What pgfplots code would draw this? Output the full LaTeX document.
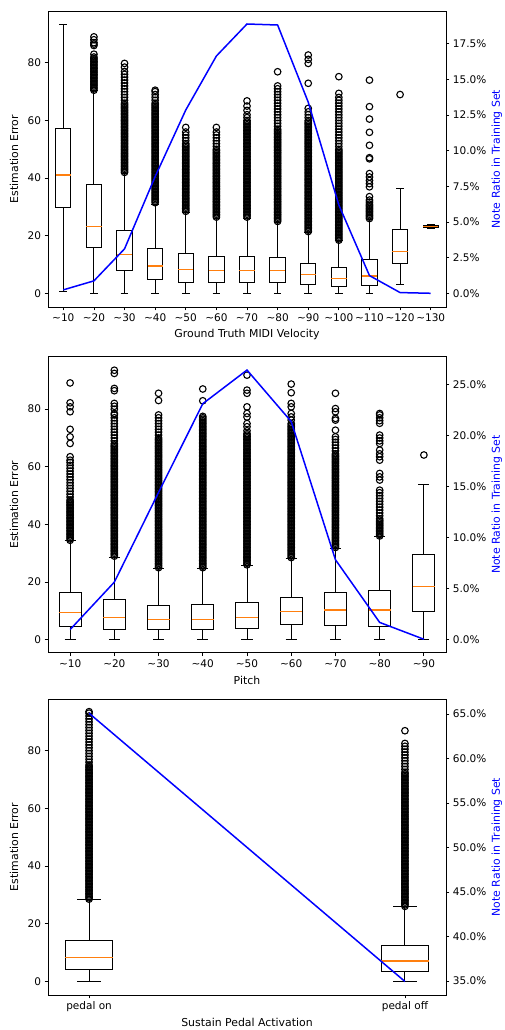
\documentclass[border=0pt]{standalone}
\usepackage{fontspec}
\setmainfont{DejaVu Sans}
\usepackage{pgfplots}
\usepgfplotslibrary{statistics}
\pgfplotsset{compat=1.18}
\definecolor{mplorange}{HTML}{FF7F0E}
\definecolor{mplblue}{RGB}{0,0,255}
\pgfplotsset{
  base/.style={
    scale only axis, width=398pt, height=296pt,
    axis line style={line width=0.8pt},
    every tick/.style={black, line width=0.8pt},
    tick align=outside, major tick length=3.4pt,
    /pgf/number format/assume math mode=true,
    tick label style={font=\fontsize{10.5}{12}\selectfont},
    label style={font=\fontsize{10.9}{13}\selectfont},
  },
  leftax/.style={base,
    xtick pos=left, ytick pos=left,
    ytick={0,20,40,60,80},
    ylabel={Estimation Error},
    ylabel style={at={(axis description cs:-0.0854,0.5)}, anchor=center},
    xlabel style={at={(axis description cs:0.5,-0.094)}, anchor=center},
    boxplot/draw direction=y,
    boxplot/every median/.style={draw=mplorange, line width=1.3pt},
    boxplot/box extend=0.5, boxplot/whisker extend=0.25,
  },
  rightax/.style={base,
    axis y line*=right, axis x line=none,
    ylabel={Note Ratio in Training Set},
    ylabel style={at={(axis description cs:1.128,0.5)}, anchor=center, text=mplblue},
    yticklabel={\pgfmathprintnumber[fixed,fixed zerofill,precision=1]{\tick}\%},
  },
  bx/.style={black, line width=1pt, mark=o, mark size=3.3pt,
    mark options={solid, line width=1.1pt, fill=none}},
  ln/.style={mplblue, line width=1.5pt, mark=none},
}
\begin{document}
\begin{tikzpicture}
\path[use as bounding box] (0,0) rectangle (504pt,-1030pt);
% ================= Panel 1 =================
\begin{axis}[leftax, at={(48pt,-307pt)}, anchor=south west,
  xmin=0.5, xmax=13.5, ymin=-4.67, ymax=97.97,
  xtick={1,2,3,4,5,6,7,8,9,10,11,12,13},
  xticklabels={\textasciitilde10,\textasciitilde20,\textasciitilde30,\textasciitilde40,\textasciitilde50,\textasciitilde60,\textasciitilde70,\textasciitilde80,\textasciitilde90,\textasciitilde100,\textasciitilde110,\textasciitilde120,\textasciitilde130},
  xlabel={Ground Truth MIDI Velocity}]
\addplot[bx, boxplot prepared={draw position=1, lower whisker=0.6, lower quartile=30.0, median=41.1, upper quartile=57.3, upper whisker=93.3}] coordinates {};
\addplot[bx, boxplot prepared={draw position=2, lower whisker=0, lower quartile=16.0, median=23.3, upper quartile=37.9, upper whisker=70.3}] table[row sep=\\,y index=0]{y\\70.5\\71\\71.5\\72\\72.5\\73\\73.5\\74\\74.5\\75\\75.5\\76\\76.5\\77\\77.5\\78\\78.5\\79\\79.5\\80\\80.5\\81\\81.5\\82\\83\\86\\86.5\\87\\88\\89\\};
\addplot[bx, boxplot prepared={draw position=3, lower whisker=0, lower quartile=8.1, median=13.6, upper quartile=21.8, upper whisker=41.7}] table[row sep=\\,y index=0]{y\\42\\42.5\\43\\43.5\\44\\44.5\\45\\45.5\\46\\46.5\\47\\47.5\\48\\48.5\\49\\49.5\\50\\50.5\\51\\51.5\\52\\52.5\\53\\53.5\\54\\54.5\\55\\55.5\\56\\56.5\\57\\57.5\\58\\58.5\\59\\59.5\\60\\60.5\\61\\61.5\\62\\62.5\\63\\63.5\\64\\64.5\\65\\65.5\\66\\67\\68\\69\\70\\71\\72\\73\\74\\75\\76\\77\\78.5\\79.8\\};
\addplot[bx, boxplot prepared={draw position=4, lower whisker=0, lower quartile=5.0, median=9.5, upper quartile=15.6, upper whisker=31.0}] table[row sep=\\,y index=0]{y\\31.5\\32\\32.5\\33\\33.5\\34\\34.5\\35\\35.5\\36\\36.5\\37\\37.5\\38\\38.5\\39\\39.5\\40\\40.5\\41\\41.5\\42\\42.5\\43\\43.5\\44\\44.5\\45\\45.5\\46\\46.5\\47\\47.5\\48\\48.5\\49\\49.5\\50\\50.5\\51\\51.5\\52\\52.5\\53\\53.5\\54\\54.5\\55\\55.5\\56\\56.5\\57\\57.5\\58\\58.5\\59\\59.5\\60\\60.5\\61\\61.5\\62\\62.5\\63\\63.5\\64\\64.5\\65\\65.5\\66\\67\\68\\69\\70\\70.5\\};
\addplot[bx, boxplot prepared={draw position=5, lower whisker=0, lower quartile=3.8, median=8.4, upper quartile=13.9, upper whisker=28.0}] table[row sep=\\,y index=0]{y\\28.5\\29\\29.5\\30\\30.5\\31\\31.5\\32\\32.5\\33\\33.5\\34\\34.5\\35\\35.5\\36\\36.5\\37\\37.5\\38\\38.5\\39\\39.5\\40\\40.5\\41\\41.5\\42\\42.5\\43\\43.5\\44\\44.5\\45\\45.5\\46\\46.5\\47\\47.5\\48\\48.5\\49\\49.5\\50\\50.5\\51\\51.5\\52\\53\\54\\55\\56\\57.6\\};
\addplot[bx, boxplot prepared={draw position=6, lower whisker=0, lower quartile=3.8, median=7.9, upper quartile=13.0, upper whisker=26.1}] table[row sep=\\,y index=0]{y\\26.5\\27\\27.5\\28\\28.5\\29\\29.5\\30\\30.5\\31\\31.5\\32\\32.5\\33\\33.5\\34\\34.5\\35\\35.5\\36\\36.5\\37\\37.5\\38\\38.5\\39\\39.5\\40\\40.5\\41\\41.5\\42\\42.5\\43\\43.5\\44\\44.5\\45\\45.5\\46\\46.5\\47\\47.5\\48\\48.5\\49\\49.5\\50\\51\\52\\53\\54\\55\\56\\57.6\\};
\addplot[bx, boxplot prepared={draw position=7, lower whisker=0, lower quartile=3.8, median=7.9, upper quartile=13.0, upper whisker=26.1}] table[row sep=\\,y index=0]{y\\26.5\\27\\27.5\\28\\28.5\\29\\29.5\\30\\30.5\\31\\31.5\\32\\32.5\\33\\33.5\\34\\34.5\\35\\35.5\\36\\36.5\\37\\37.5\\38\\38.5\\39\\39.5\\40\\40.5\\41\\41.5\\42\\42.5\\43\\43.5\\44\\44.5\\45\\45.5\\46\\46.5\\47\\47.5\\48\\48.5\\49\\49.5\\50\\50.5\\51\\51.5\\52\\52.5\\53\\53.5\\54\\54.5\\55\\55.5\\56\\56.5\\57\\57.5\\58\\58.5\\59\\59.5\\60\\61\\62\\63.5\\65\\66.8\\};
\addplot[bx, boxplot prepared={draw position=8, lower whisker=0, lower quartile=3.9, median=8.0, upper quartile=12.5, upper whisker=24.7}] table[row sep=\\,y index=0]{y\\25\\25.5\\26\\26.5\\27\\27.5\\28\\28.5\\29\\29.5\\30\\30.5\\31\\31.5\\32\\32.5\\33\\33.5\\34\\34.5\\35\\35.5\\36\\36.5\\37\\37.5\\38\\38.5\\39\\39.5\\40\\40.5\\41\\41.5\\42\\42.5\\43\\43.5\\44\\44.5\\45\\45.5\\46\\46.5\\47\\47.5\\48\\48.5\\49\\49.5\\50\\50.5\\51\\51.5\\52\\52.5\\53\\53.5\\54\\54.5\\55\\55.5\\56\\56.5\\57\\58\\59\\60\\61\\62\\63\\64\\65\\66\\67\\68\\69\\70\\71\\72\\76.9\\};
\addplot[bx, boxplot prepared={draw position=9, lower whisker=0, lower quartile=3.0, median=6.7, upper quartile=10.5, upper whisker=21.3}] table[row sep=\\,y index=0]{y\\21.5\\22\\22.5\\23\\23.5\\24\\24.5\\25\\25.5\\26\\26.5\\27\\27.5\\28\\28.5\\29\\29.5\\30\\30.5\\31\\31.5\\32\\32.5\\33\\33.5\\34\\34.5\\35\\35.5\\36\\36.5\\37\\37.5\\38\\38.5\\39\\39.5\\40\\40.5\\41\\41.5\\42\\42.5\\43\\43.5\\44\\44.5\\45\\45.5\\46\\46.5\\47\\47.5\\48\\48.5\\49\\49.5\\50\\50.5\\51\\51.5\\52\\52.5\\53\\53.5\\54\\54.5\\55\\55.5\\56\\56.5\\57\\57.5\\58\\58.5\\59\\59.5\\60\\61\\62\\63\\64.2\\72.9\\79.8\\81.2\\82.7\\};
\addplot[bx, boxplot prepared={draw position=10, lower whisker=0, lower quartile=2.4, median=5.3, upper quartile=9.1, upper whisker=18.4}] table[row sep=\\,y index=0]{y\\18.5\\19\\19.5\\20\\20.5\\21\\21.5\\22\\22.5\\23\\23.5\\24\\24.5\\25\\25.5\\26\\26.5\\27\\27.5\\28\\28.5\\29\\29.5\\30\\30.5\\31\\31.5\\32\\32.5\\33\\33.5\\34\\34.5\\35\\35.5\\36\\36.5\\37\\37.5\\38\\38.5\\39\\39.5\\40\\40.5\\41\\41.5\\42\\42.5\\43\\43.5\\44\\44.5\\45\\45.5\\46\\46.5\\47\\47.5\\48\\48.5\\49\\49.5\\50\\51\\52\\53\\54\\55\\56\\57\\58\\59\\60\\61\\62\\63\\64\\65\\66\\67\\68\\69.4\\75.2\\};
\addplot[bx, boxplot prepared={draw position=11, lower whisker=0, lower quartile=2.7, median=6.1, upper quartile=11.9, upper whisker=25.5}] table[row sep=\\,y index=0]{y\\26\\26.5\\27\\27.5\\28\\28.5\\29\\29.5\\30\\30.5\\31\\31.7\\32.4\\33.6\\37\\38.1\\39.2\\40.4\\41.6\\46.7\\47.1\\51.4\\55.9\\60.5\\64.8\\74\\};
\addplot[bx, boxplot prepared={draw position=12, lower whisker=3.3, lower quartile=10.3, median=14.5, upper quartile=22.2, upper whisker=36.4}] table[row sep=\\,y index=0]{y\\69\\};
\addplot[bx, boxplot prepared={draw position=13, lower whisker=22.4, lower quartile=22.8, median=23.2, upper quartile=23.6, upper whisker=24.0}] coordinates {};
\end{axis}
\begin{axis}[rightax, at={(48pt,-307pt)}, anchor=south west,
  xmin=0.5, xmax=13.5, ymin=-0.94, ymax=19.78,
  ytick={0,2.5,5,7.5,10,12.5,15,17.5}]
\addplot[ln] coordinates {(1,0.26)(2,0.89)(3,3.13)(4,8.19)(5,12.85)(6,16.63)(7,18.87)(8,18.80)(9,13.4)(10,6.2)(11,1.26)(12,0.07)(13,0.02)};
\end{axis}
% ================= Panel 2 =================
\begin{axis}[leftax, at={(48pt,-652.7pt)}, anchor=south west,
  xmin=0.5, xmax=9.5, ymin=-4.5, ymax=98.2,
  xtick={1,2,3,4,5,6,7,8,9},
  xticklabels={\textasciitilde10,\textasciitilde20,\textasciitilde30,\textasciitilde40,\textasciitilde50,\textasciitilde60,\textasciitilde70,\textasciitilde80,\textasciitilde90},
  xlabel={Pitch}]
\addplot[bx, boxplot prepared={draw position=1, lower whisker=0, lower quartile=4.5, median=9.5, upper quartile=16.4, upper whisker=34.4}] table[row sep=\\,y index=0]{y\\34.5\\35\\35.5\\36\\36.5\\37\\37.5\\38\\38.5\\39\\39.5\\40\\40.5\\41\\41.5\\42\\42.5\\43\\43.5\\44\\44.5\\45\\45.5\\46\\46.5\\47\\47.5\\48\\48.5\\49.5\\50.5\\51.5\\52.5\\53.5\\54.5\\55.5\\56.5\\57.5\\58.5\\59.5\\60.5\\61.5\\62.3\\63.5\\68.1\\70.4\\73\\79.1\\80.8\\82.2\\89.1\\};
\addplot[bx, boxplot prepared={draw position=2, lower whisker=0, lower quartile=3.4, median=7.6, upper quartile=13.8, upper whisker=28.6}] table[row sep=\\,y index=0]{y\\29\\29.5\\30\\30.5\\31\\31.5\\32\\32.5\\33\\33.5\\34\\34.5\\35\\35.5\\36\\36.5\\37\\37.5\\38\\38.5\\39\\39.5\\40\\40.5\\41\\41.5\\42\\42.5\\43\\43.5\\44\\44.5\\45\\45.5\\46\\46.5\\47\\47.5\\48\\48.5\\49\\49.5\\50\\50.5\\51\\51.5\\52\\52.5\\53\\53.5\\54\\54.5\\55\\55.5\\56\\56.5\\57\\57.5\\58\\58.5\\59\\59.5\\60\\60.5\\61\\61.5\\62\\62.5\\63\\63.5\\64\\64.5\\65\\65.5\\66\\66.5\\67\\67.5\\68\\69\\70\\71\\72\\73\\74\\75\\76\\77\\78\\78.5\\80\\81\\82\\86.4\\87.2\\92.4\\93.5\\};
\addplot[bx, boxplot prepared={draw position=3, lower whisker=0, lower quartile=3.4, median=7.1, upper quartile=12.0, upper whisker=24.8}] table[row sep=\\,y index=0]{y\\25\\25.5\\26\\26.5\\27\\27.5\\28\\28.5\\29\\29.5\\30\\30.5\\31\\31.5\\32\\32.5\\33\\33.5\\34\\34.5\\35\\35.5\\36\\36.5\\37\\37.5\\38\\38.5\\39\\39.5\\40\\40.5\\41\\41.5\\42\\42.5\\43\\43.5\\44\\44.5\\45\\45.5\\46\\46.5\\47\\47.5\\48\\48.5\\49\\49.5\\50\\50.5\\51\\51.5\\52\\52.5\\53\\53.5\\54\\54.5\\55\\55.5\\56\\56.5\\57\\57.5\\58\\58.5\\59\\59.5\\60\\60.5\\61\\61.5\\62\\62.5\\63\\63.5\\64\\64.5\\65\\65.5\\66\\66.5\\67\\67.5\\68\\68.5\\69\\69.5\\70\\71\\72\\73\\74\\75\\76\\77\\78\\83\\85.5\\};
\addplot[bx, boxplot prepared={draw position=4, lower whisker=0, lower quartile=3.4, median=7.1, upper quartile=12.3, upper whisker=24.8}] table[row sep=\\,y index=0]{y\\25\\25.5\\26\\26.5\\27\\27.5\\28\\28.5\\29\\29.5\\30\\30.5\\31\\31.5\\32\\32.5\\33\\33.5\\34\\34.5\\35\\35.5\\36\\36.5\\37\\37.5\\38\\38.5\\39\\39.5\\40\\40.5\\41\\41.5\\42\\42.5\\43\\43.5\\44\\44.5\\45\\45.5\\46\\46.5\\47\\47.5\\48\\48.5\\49\\49.5\\50\\50.5\\51\\51.5\\52\\52.5\\53\\53.5\\54\\54.5\\55\\55.5\\56\\56.5\\57\\57.5\\58\\58.5\\59\\59.5\\60\\60.5\\61\\61.5\\62\\62.5\\63\\63.5\\64\\64.5\\65\\65.5\\66\\66.5\\67\\67.5\\68\\68.5\\69\\69.5\\70\\70.5\\71\\71.5\\72\\72.5\\73\\73.5\\74\\74.5\\75\\75.5\\76\\76.5\\77\\77.5\\82.9\\87\\};
\addplot[bx, boxplot prepared={draw position=5, lower whisker=0, lower quartile=4.0, median=7.6, upper quartile=12.8, upper whisker=25.7}] table[row sep=\\,y index=0]{y\\26\\26.5\\27\\27.5\\28\\28.5\\29\\29.5\\30\\30.5\\31\\31.5\\32\\32.5\\33\\33.5\\34\\34.5\\35\\35.5\\36\\36.5\\37\\37.5\\38\\38.5\\39\\39.5\\40\\40.5\\41\\41.5\\42\\42.5\\43\\43.5\\44\\44.5\\45\\45.5\\46\\46.5\\47\\47.5\\48\\48.5\\49\\49.5\\50\\50.5\\51\\51.5\\52\\52.5\\53\\53.5\\54\\54.5\\55\\55.5\\56\\56.5\\57\\57.5\\58\\58.5\\59\\59.5\\60\\60.5\\61\\61.5\\62\\62.5\\63\\63.5\\64\\64.5\\65\\65.5\\66\\66.5\\67\\67.5\\68\\68.5\\69\\69.5\\70\\70.5\\71\\71.5\\72.5\\73.9\\75\\77.3\\78.5\\80.8\\85.5\\86.6\\91.8\\};
\addplot[bx, boxplot prepared={draw position=6, lower whisker=0, lower quartile=5.3, median=9.7, upper quartile=14.7, upper whisker=28.2}] table[row sep=\\,y index=0]{y\\28.5\\29\\29.5\\30\\30.5\\31\\31.5\\32\\32.5\\33\\33.5\\34\\34.5\\35\\35.5\\36\\36.5\\37\\37.5\\38\\38.5\\39\\39.5\\40\\40.5\\41\\41.5\\42\\42.5\\43\\43.5\\44\\44.5\\45\\45.5\\46\\46.5\\47\\47.5\\48\\48.5\\49\\49.5\\50\\50.5\\51\\51.5\\52\\52.5\\53\\53.5\\54\\54.5\\55\\55.5\\56\\56.5\\57\\57.5\\58\\58.5\\59\\59.5\\60\\60.5\\61\\61.5\\62\\62.5\\63\\63.5\\64\\64.5\\65\\65.5\\66\\66.5\\67\\67.5\\68\\68.5\\69\\69.5\\70\\70.5\\71\\71.5\\72\\72.5\\73\\73.5\\74\\74.5\\75\\76.2\\77.3\\78.5\\80.8\\82\\85.7\\88.7\\};
\addplot[bx, boxplot prepared={draw position=7, lower whisker=0, lower quartile=4.9, median=10.3, upper quartile=16.3, upper whisker=31.7}] table[row sep=\\,y index=0]{y\\32\\32.5\\33\\33.5\\34\\34.5\\35\\35.5\\36\\36.5\\37\\37.5\\38\\38.5\\39\\39.5\\40\\40.5\\41\\41.5\\42\\42.5\\43\\43.5\\44\\44.5\\45\\45.5\\46\\46.5\\47\\47.5\\48\\48.5\\49\\49.5\\50\\50.5\\51\\51.5\\52\\52.5\\53\\53.5\\54\\54.5\\55\\55.5\\56\\56.5\\57\\57.5\\58\\58.5\\59\\59.5\\60\\60.5\\61\\61.5\\62\\62.5\\63\\63.5\\64\\64.5\\65.5\\66.5\\67.5\\68.5\\69.5\\70.4\\72.7\\76.2\\76.8\\79.1\\80.2\\85.5\\};
\addplot[bx, boxplot prepared={draw position=8, lower whisker=0, lower quartile=4.7, median=10.3, upper quartile=17.2, upper whisker=35.8}] table[row sep=\\,y index=0]{y\\36\\36.5\\37\\37.5\\38\\38.5\\39\\39.5\\40\\40.5\\41\\41.5\\42\\43\\44\\45\\46\\47\\48\\49\\50\\51\\51.9\\55.4\\56.5\\57.7\\62.3\\63.5\\64.5\\65.8\\68.1\\69\\70\\71\\75.1\\76\\77\\78\\78.5\\};
\addplot[bx, boxplot prepared={draw position=9, lower whisker=0, lower quartile=9.95, median=18.4, upper quartile=29.6, upper whisker=54.0}] table[row sep=\\,y index=0]{y\\64.1\\};
\end{axis}
\begin{axis}[rightax, at={(48pt,-652.7pt)}, anchor=south west,
  xmin=0.5, xmax=9.5, ymin=-1.27, ymax=27.76,
  ytick={0,5,10,15,20,25}]
\addplot[ln] coordinates {(1,1.0)(2,5.65)(3,14.45)(4,23.15)(5,26.45)(6,21.4)(7,7.85)(8,1.70)(9,0.05)};
\end{axis}
% ================= Panel 3 (positions 0 and 10) =================
\begin{axis}[leftax, at={(48pt,-995pt)}, anchor=south west,
  xmin=-1.3, xmax=11.3, ymin=-4.74, ymax=97.9,
  boxplot/box extend=1.5, boxplot/whisker extend=0.75,
  xtick={0,10}, xticklabels={pedal on,pedal off},
  xlabel={Sustain Pedal Activation}]
\addplot[bx, boxplot prepared={draw position=0, lower whisker=0, lower quartile=4.2, median=8.2, upper quartile=14.1, upper whisker=28.3}] table[row sep=\\,y index=0]{y\\28.5\\29\\29.5\\30\\30.5\\31\\31.5\\32\\32.5\\33\\33.5\\34\\34.5\\35\\35.5\\36\\36.5\\37\\37.5\\38\\38.5\\39\\39.5\\40\\40.5\\41\\41.5\\42\\42.5\\43\\43.5\\44\\44.5\\45\\45.5\\46\\46.5\\47\\47.5\\48\\48.5\\49\\49.5\\50\\50.5\\51\\51.5\\52\\52.5\\53\\53.5\\54\\54.5\\55\\55.5\\56\\56.5\\57\\57.5\\58\\58.5\\59\\59.5\\60\\60.5\\61\\61.5\\62\\62.5\\63\\63.5\\64\\64.5\\65\\65.5\\66\\66.5\\67\\67.5\\68\\68.5\\69\\69.5\\70\\70.5\\71\\71.5\\72\\72.5\\73\\73.5\\74\\74.5\\75\\76\\77\\78\\79\\80\\81\\82\\83\\84\\85\\86\\87\\88\\89\\90\\91\\92\\93\\93.5\\};
\addplot[bx, boxplot prepared={draw position=10, lower whisker=0, lower quartile=3.5, median=7.1, upper quartile=12.4, upper whisker=25.8}] table[row sep=\\,y index=0]{y\\26\\26.5\\27\\27.5\\28\\28.5\\29\\29.5\\30\\30.5\\31\\31.5\\32\\32.5\\33\\33.5\\34\\34.5\\35\\35.5\\36\\36.5\\37\\37.5\\38\\38.5\\39\\39.5\\40\\40.5\\41\\41.5\\42\\42.5\\43\\43.5\\44\\44.5\\45\\45.5\\46\\46.5\\47\\47.5\\48\\48.5\\49\\49.5\\50\\50.5\\51\\51.5\\52\\52.5\\53\\53.5\\54\\54.5\\55\\55.5\\56\\56.5\\57\\57.5\\58\\58.5\\59\\59.5\\60\\60.5\\61\\61.5\\62\\62.5\\63\\63.5\\64\\64.5\\65\\65.5\\66\\66.5\\67\\67.5\\68\\68.5\\69\\69.5\\70\\70.5\\71\\71.5\\72\\72.5\\73.5\\74.5\\75.5\\76.5\\77.5\\78.5\\79.5\\80.5\\81.5\\82.5\\86.9\\};
\end{axis}
\begin{axis}[rightax, at={(48pt,-995pt)}, anchor=south west,
  xmin=-1.3, xmax=11.3, ymin=33.43, ymax=66.7,
  ytick={35,40,45,50,55,60,65}]
\addplot[ln] coordinates {(0,65.1)(10,34.95)};
\end{axis}
\end{tikzpicture}
\end{document}
